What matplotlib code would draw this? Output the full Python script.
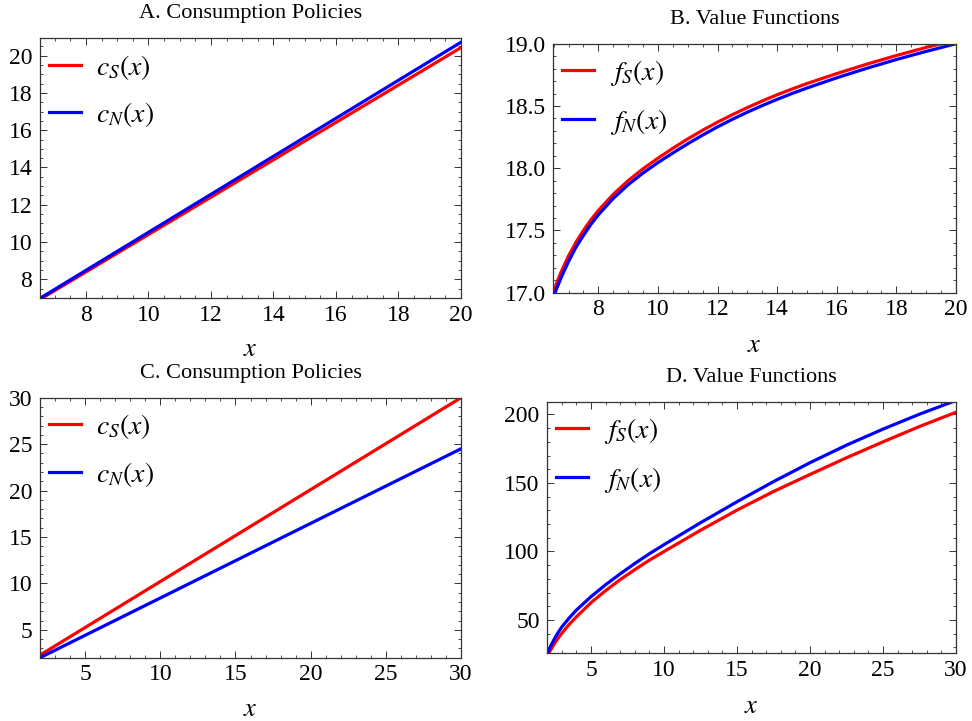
import matplotlib
matplotlib.use("Agg")
import matplotlib.pyplot as plt
from matplotlib.ticker import MultipleLocator, FormatStrFormatter

plt.rcParams['font.family'] = ['Liberation Serif', 'DejaVu Serif']
plt.rcParams['mathtext.fontset'] = 'stix'

# A. consumption policies, small range (straight lines)
xA = [6.53, 20.0]
cS_A = [6.92, 20.43]
cN_A = [6.98, 20.72]

# B. value functions, small range
xB_S = [6.49, 6.6, 6.75, 7.0, 7.25, 7.5, 7.75, 8.0, 8.5, 9.0, 9.5, 10.0, 10.5, 11.0,
        11.5, 12.0, 12.5, 13.0, 13.5, 14.0, 14.5, 15.0, 16.0, 17.0, 18.0, 19.0, 20.0]
fS_B = [17.0, 17.075, 17.165, 17.295, 17.405, 17.5, 17.585, 17.66, 17.79, 17.9, 17.995,
        18.08, 18.16, 18.235, 18.305, 18.37, 18.43, 18.487, 18.54, 18.59, 18.636, 18.68,
        18.76, 18.835, 18.905, 18.97, 19.03]
xB_N = [6.55, 6.65, 6.75, 7.0, 7.25, 7.5, 7.75, 8.0, 8.5, 9.0, 9.5, 10.0, 10.5, 11.0,
        11.5, 12.0, 12.5, 13.0, 13.5, 14.0, 14.5, 15.0, 16.0, 17.0, 18.0, 19.0, 20.0]
fN_B = [17.0, 17.06, 17.12, 17.25, 17.365, 17.46, 17.548, 17.625, 17.757, 17.867, 17.961,
        18.045, 18.122, 18.196, 18.266, 18.332, 18.393, 18.45, 18.503, 18.553, 18.6, 18.644,
        18.726, 18.802, 18.873, 18.938, 19.0]

# C. consumption policies, wide range
xC = [2.0, 30.0]
cS_C = [2.28, 30.0]
cN_C = [2.0, 24.5]

# D. value functions, wide range
xD_S = [2.1, 2.25, 2.5, 2.75, 3.0, 3.5, 4.0, 5.0, 6.0, 7.0, 8.0, 9.0, 10.0, 12.5,
        15.0, 17.5, 20.0, 22.5, 25.0, 27.5, 30.0]
fS_D = [25.7, 28.5, 33.0, 36.8, 40.4, 46.8, 52.4, 62.7, 71.5, 79.5, 86.8, 93.7, 100.0,
        115.5, 130.2, 143.8, 156.2, 168.4, 180.0, 191.2, 201.6]
xD_N = [2.0, 2.25, 2.5, 2.75, 3.0, 3.5, 4.0, 5.0, 6.0, 7.0, 8.0, 9.0, 10.0, 12.5,
        15.0, 17.5, 20.0, 22.5, 25.0, 27.5, 30.0]
fN_D = [25.7, 31.5, 36.5, 41.0, 45.0, 51.5, 57.3, 67.1, 75.8, 83.7, 91.3, 98.4, 105.0,
        121.0, 136.3, 151.0, 164.8, 177.6, 189.3, 200.2, 210.2]

W, H = 972, 721
fig = plt.figure(figsize=(W / 100, H / 100), dpi=100)


def make_axes(left, top, right, bottom):
    # pixel box -> figure fraction
    return fig.add_axes([left / W, (H - bottom) / H, (right - left) / W, (bottom - top) / H])


def style(ax, title, xlim, ylim, xmaj, xmin, ymaj, ymin, title_y, xlab_y, fmt=None):
    ax.set_xlim(*xlim)
    ax.set_ylim(*ylim)
    ax.xaxis.set_major_locator(MultipleLocator(xmaj))
    ax.xaxis.set_minor_locator(MultipleLocator(xmin))
    ax.yaxis.set_major_locator(MultipleLocator(ymaj))
    ax.yaxis.set_minor_locator(MultipleLocator(ymin))
    if fmt:
        ax.yaxis.set_major_formatter(fmt)
    ax.tick_params(which='both', direction='in', top=True, right=True,
                   colors='#333333', labelcolor='black', labelsize=17,
                   labelfontfamily='Liberation Serif')
    ax.tick_params(which='major', length=4.8, width=0.7)
    ax.tick_params(which='minor', length=2.5, width=0.6)
    ax.tick_params(axis='y', which='major', pad=5.5)
    ax.tick_params(axis='x', which='major', pad=4.5)
    for s in ax.spines.values():
        s.set_color('#333333')
        s.set_linewidth(0.9)
    ax.text(0.5, title_y, title, transform=ax.transAxes, ha='center',
            va='baseline', fontsize=16)
    ax.set_xlabel('$x$', fontsize=19, va='baseline')
    ax.xaxis.set_label_coords(0.5, xlab_y)


def legend(ax, labels, h_px, w_px):
    ax.legend(labels, loc='upper left', frameon=False, fontsize=20,
              bbox_to_anchor=(9.0 / w_px, 1 - 14.5 / h_px), borderaxespad=0,
              borderpad=0, handlelength=1.15, handletextpad=0.55, labelspacing=0.66)


lw = 2.3

axA = make_axes(40, 38.3, 461, 298.3)
axA.plot(xA, cS_A, color='red', lw=lw)
axA.plot(xA, cN_A, color='blue', lw=lw)
style(axA, 'A. Consumption Policies', (6.53, 20), (6.98, 20.93), 2, 0.5, 2, 0.5, 1.077, -0.223)
legend(axA, ['$c_S(x)$', '$c_N(x)$'], 260, 421)

axB = make_axes(553.3, 43.7, 956, 292.7)
axB.plot(xB_S, fS_B, color='red', lw=lw)
axB.plot(xB_N, fN_B, color='blue', lw=lw)
style(axB, 'B. Value Functions', (6.49, 20), (17.0, 19.0), 2, 0.5, 0.5, 0.1, 1.079, -0.237,
      fmt=FormatStrFormatter('%.1f'))
legend(axB, ['$f_S(x)$', '$f_N(x)$'], 249, 402.7)

axC = make_axes(40, 397.7, 461, 657.7)
axC.plot(xC, cS_C, color='red', lw=lw)
axC.plot(xC, cN_C, color='blue', lw=lw)
style(axC, 'C. Consumption Policies', (2, 30), (2, 30), 5, 1, 5, 1, 1.075, -0.224)
legend(axC, ['$c_S(x)$', '$c_N(x)$'], 260, 421)

axD = make_axes(547.3, 401.7, 956, 653.3)
axD.plot(xD_S, fS_D, color='red', lw=lw)
axD.plot(xD_N, fN_D, color='blue', lw=lw)
style(axD, 'D. Value Functions', (2, 30), (25.7, 209.3), 5, 1, 50, 10, 1.0795, -0.236)
legend(axD, ['$f_S(x)$', '$f_N(x)$'], 251.6, 408.7)

fig.savefig('out.png', dpi=100)
